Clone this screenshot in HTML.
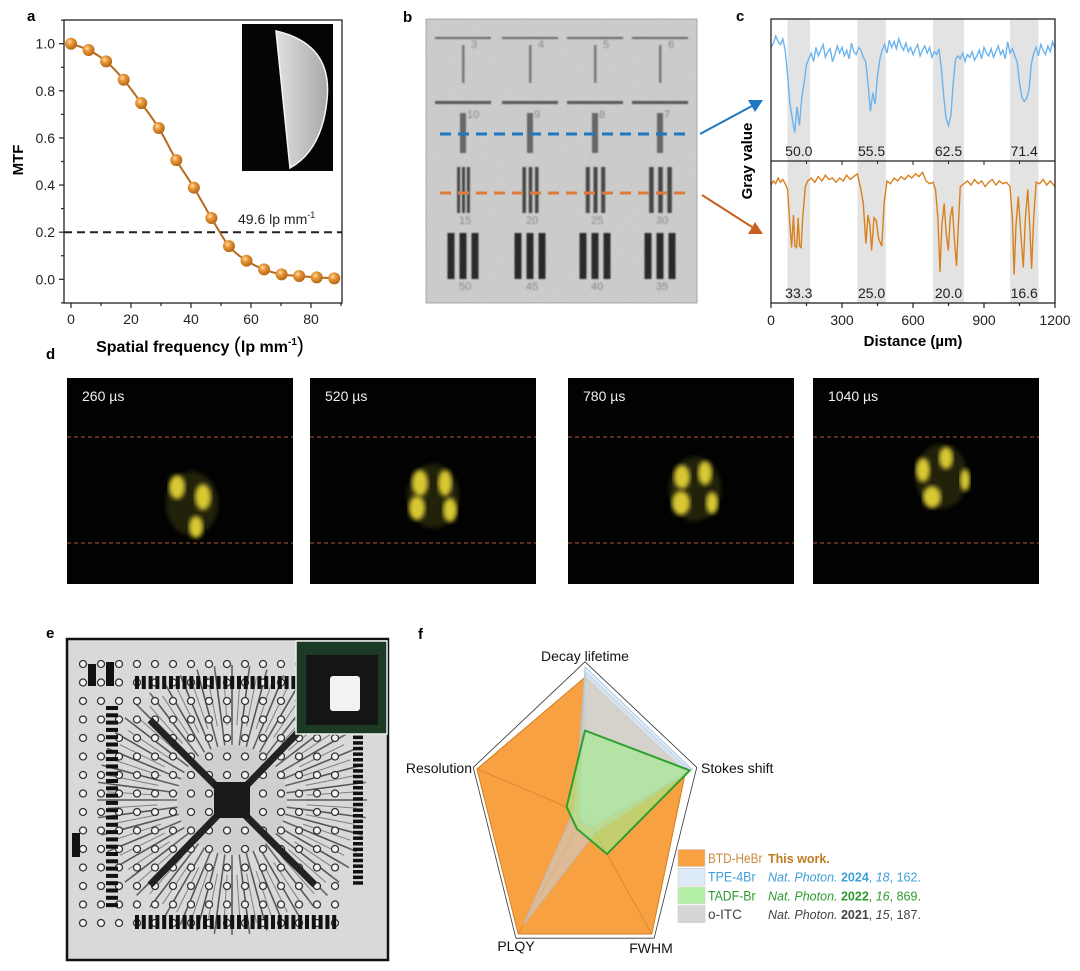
<!DOCTYPE html>
<html><head><meta charset="utf-8">
<style>
html,body{margin:0;padding:0;background:#fff;}
svg{display:block;font-family:"Liberation Sans",Arial,sans-serif;}
</style></head>
<body>
<svg id="fig" width="1080" height="971" viewBox="0 0 1080 971" xmlns="http://www.w3.org/2000/svg">
<defs>
  <radialGradient id="ball" cx="0.38" cy="0.35" r="0.7">
    <stop offset="0" stop-color="#fde0b0"/>
    <stop offset="0.35" stop-color="#eb9a3a"/>
    <stop offset="1" stop-color="#b0600e"/>
  </radialGradient>
  <linearGradient id="lens" x1="0" y1="0" x2="1" y2="0">
    <stop offset="0" stop-color="#e0e0e0"/><stop offset="1" stop-color="#a8a8a8"/>
  </linearGradient>
  <filter id="noise" x="0" y="0" width="100%" height="100%">
    <feTurbulence type="fractalNoise" baseFrequency="0.9" numOctaves="2" seed="3"/>
    <feColorMatrix type="matrix" values="0 0 0 0 0.72  0 0 0 0 0.72  0 0 0 0 0.72  0 0 0 -1.2 1.1"/>
  </filter>
  <filter id="blur1"><feGaussianBlur stdDeviation="0.8"/></filter>
  <filter id="blur3"><feGaussianBlur stdDeviation="2.5"/></filter>
</defs>

<g font-weight="bold" font-size="15" fill="#000">
  <text x="27" y="21">a</text>
  <text x="403" y="22">b</text>
  <text x="736" y="21">c</text>
  <text x="46" y="359">d</text>
  <text x="46" y="638">e</text>
  <text x="418" y="639">f</text>
</g>

<g id="pa">
  <rect x="242" y="24" width="91" height="147" fill="#050505"/>
  <path d="M276,31 Q333,44 327,100 Q322,150 290,168 Z" fill="url(#lens)" stroke="#f4f4f4" stroke-width="1.5"/>
  <line x1="64" y1="232.2" x2="342" y2="232.2" stroke="#222" stroke-width="2" stroke-dasharray="8,5"/>
  <text x="238" y="224" font-size="14" fill="#222">49.6 lp mm<tspan font-size="9" dy="-6">-1</tspan></text>
  <rect x="64" y="20" width="278" height="283" fill="none" stroke="#222" stroke-width="1.3"/>
  <text transform="translate(23,160) rotate(-90)" text-anchor="middle" font-size="15" font-weight="bold">MTF</text>
  <text x="200" y="352" text-anchor="middle" font-size="16" font-weight="bold">Spatial frequency <tspan font-weight="normal" font-size="21">(</tspan>lp mm<tspan font-size="10" dy="-7">-1</tspan><tspan font-weight="normal" font-size="21" dy="7">)</tspan></text>
</g>

<g id="pb">
  <rect x="426" y="19" width="271" height="284" fill="#c2c2c2"/>
  <rect x="426" y="19" width="271" height="284" filter="url(#noise)" opacity="0.7"/>
  <rect x="426" y="19" width="271" height="284" fill="none" stroke="#999" stroke-width="0.8"/>
  <line x1="440" y1="134" x2="692" y2="134" stroke="#1f77c0" stroke-width="3" stroke-dasharray="11,7"/>
  <line x1="440" y1="193" x2="692" y2="193" stroke="#e07a3a" stroke-width="3" stroke-dasharray="11,7"/>
  <g><line x1="700" y1="134" x2="752" y2="106" stroke="#1f77c0" stroke-width="2"/><polygon points="763,100 748,100 755,112" fill="#1f77c0"/></g>
  <g><line x1="702" y1="195" x2="752" y2="227" stroke="#c8601e" stroke-width="2"/><polygon points="763,234 748,234 755,222" fill="#c8601e"/></g>
</g>

<g id="pc">
  <text transform="translate(752,161) rotate(-90)" text-anchor="middle" font-size="15" font-weight="bold">Gray value</text>
  <text x="913" y="346" text-anchor="middle" font-size="15" font-weight="bold">Distance (µm)</text>
</g>

<g id="pd"></g>
<g id="pe"></g>
<g id="pf"></g>

</svg>
<script>
const NS="http://www.w3.org/2000/svg";
function mk(tag,attrs,parent,text){const e=document.createElementNS(NS,tag);for(const k in attrs)e.setAttribute(k,attrs[k]);if(text!==undefined)e.textContent=text;parent.appendChild(e);return e;}

const mtfFreq=[0,5.85,11.7,17.55,23.4,29.25,35.1,40.95,46.8,52.65,58.5,64.35,70.2,76.05,81.9,87.75];
const mtfValue=[1.0,0.973,0.925,0.847,0.748,0.642,0.506,0.389,0.26,0.141,0.079,0.042,0.021,0.014,0.008,0.004];
const mtfXTicks=[0,20,40,60,80];
const mtfYTicks=[0.0,0.2,0.4,0.6,0.8,1.0];

const bluePosStep=10;
const blueGray=[80,83,88,84,82,86,78,
 60,40,30,20,38,25,45,55,68,
 72,76,70,80,74,78,82,73,77,79,70,75,81,76,80,74,78,72,83,77,75,80,78,73,
 70,55,35,48,40,60,72,
 78,82,76,85,80,84,79,86,81,78,83,77,80,75,79,82,74,78,81,76,80,73,77,75,79,
 65,45,30,25,32,55,72,
 74,72,76,70,75,73,77,71,74,78,72,80,76,74,79,73,77,81,75,78,72,84,76,79,74,
 70,55,45,42,44,50,68,
 76,80,74,82,78,75,81,77,84,79];
const orangeDist=[0,10,20,30,40,50,60,70,80,87,95,101,108,115,121,127,134,145,155,170,185,200,215,230,245,260,275,290,305,320,335,350,365,380,390,401,410,418,425,435,445,455,468,478,490,505,520,535,550,565,580,595,610,625,640,655,670,685,695,705,714,722,732,740,749,757,766,775,784,792,800,815,830,845,860,875,890,905,920,935,950,965,980,995,1010,1020,1027,1035,1045,1055,1066,1075,1085,1093,1101,1110,1120,1135,1150,1165,1180,1190,1200];
const orangeGray=[83,86,84,88,85,87,84,80,55,39,62,40,39,60,40,39,60,82,86,88,85,89,86,90,87,88,85,88,86,90,87,89,91,80,70,42,62,55,37,60,58,45,40,70,86,84,88,86,89,87,90,88,91,89,92,86,84,85,80,60,22,55,70,50,37,60,68,45,26,55,82,84,86,83,87,84,86,82,85,87,83,86,84,85,82,60,20,55,75,50,25,60,80,55,24,60,85,84,87,83,86,84,82];
const bandStart=[70,365,685,1010];
const bandEnd=[165,485,815,1130];
const topBandLabels=["50.0","55.5","62.5","71.4"];
const bottomBandLabels=["33.3","25.0","20.0","16.6"];
const distTicks=[0,300,600,900,1200];

const radarAxes=["Decay lifetime","Stokes shift","FWHM","PLQY","Resolution"];
const seriesNames=["BTD-HeBr","o-ITC","TPE-4Br","TADF-Br"];
const btdValues=[0.93,0.93,1.0,1.0,1.0];
const oitcValues=[0.97,0.97,0.15,0.92,0.1];
const tpeValues=[1.0,0.99,0.1,0.05,0.05];
const tadfValues=[0.57,0.97,0.33,0.12,0.17];

(function(){
  const g=document.getElementById('pa');
  const X=v=>71+v*3, Y=v=>279.3-v*235.6;
  for(let v=-0.1;v<=1.101;v+=0.1){const maj=Math.abs(Math.round(v*10)%2)===0;
    const t=mk('line',{x1:64,x2:64-(maj?5:3),y1:Y(v),y2:Y(v),stroke:'#222','stroke-width':1.2},g);
    
    }
  mtfYTicks.forEach(v=>{const t=mk('text',{x:55,y:Y(v)+5,'text-anchor':'end','font-size':14,fill:'#222'},g,v.toFixed(1));
    
    });
  for(let v=0;v<=90;v+=10){const maj=v%20===0;
    const t=mk('line',{x1:X(v),x2:X(v),y1:303,y2:303+(maj?5:3),stroke:'#222','stroke-width':1.2},g);
    
    }
  mtfXTicks.forEach(v=>{const t=mk('text',{x:X(v),y:324,'text-anchor':'middle','font-size':14,fill:'#222'},g,String(v));
    
    });
  const P=mtfFreq.map((f,i)=>[X(f),Y(mtfValue[i])]);
  let d='M'+P[0][0]+','+P[0][1];
  for(let i=0;i<P.length-1;i++){const p0=P[Math.max(0,i-1)],p1=P[i],p2=P[i+1],p3=P[Math.min(P.length-1,i+2)];
    d+=' C'+(p1[0]+(p2[0]-p0[0])/6)+','+(p1[1]+(p2[1]-p0[1])/6)+' '+(p2[0]-(p3[0]-p1[0])/6)+','+(p2[1]-(p3[1]-p1[1])/6)+' '+p2[0]+','+p2[1];}
  const line=mk('path',{d:d,fill:'none',stroke:'#b86a1c','stroke-width':2},g);
  
  
  P.forEach(p=>{const c=mk('circle',{cx:p[0],cy:p[1],r:6,fill:'url(#ball)'},g);
    
    });
})();

(function(){
  const g=document.getElementById('pb');
  const first=g.children[3];
  const cols=[463,530,595,660];
  const lab=[["3","4","5","6"],["10","9","8","7"],["15","20","25","30"],["50","45","40","35"]];
  const grp=mk('g',{filter:'url(#blur1)'},g); g.insertBefore(grp,first);
  cols.forEach((cx,i)=>{
    mk('rect',{x:cx-28,y:37,width:56,height:2,fill:'#666'},grp);
    mk('rect',{x:cx-1,y:45,width:2.5,height:38,fill:'#777'},grp);
    mk('rect',{x:cx-28,y:101,width:56,height:3,fill:'#555'},grp);
    mk('rect',{x:cx-3,y:113,width:6,height:40,fill:'#666'},grp);
    const w=[2,2.5,3,3.5][i], s=[3.5,4.5,5.5,6.5][i];
    for(let k=-1;k<=1;k++) mk('rect',{x:cx+k*s*1.4-w/2,y:167,width:w+1,height:46,fill:'#444'},grp);
    for(let k=-1;k<=1;k++) mk('rect',{x:cx+k*12-3.5,y:233,width:7,height:46,fill:'#2a2a2a'},grp);
    [[lab[0][i],cx+8,48],[lab[1][i],cx+4,118],[lab[2][i],cx-4,224],[lab[3][i],cx-4,290]].forEach(a=>mk('text',{x:a[1],y:a[2],'font-size':11,fill:'#888'},grp,a[0]));
  });
})();

(function(){
  const g=document.getElementById('pc');
  const X=v=>771+v*(284/1200);
  const Yt=v=>161-v*1.42, Yb=v=>303-v*1.42;
  bandStart.forEach((s,i)=>{const r=mk('rect',{x:X(s),y:19,width:X(bandEnd[i])-X(s),height:284,fill:'#e3e3e3'},g);
    
    });
  const bd=blueGray.map((v,i)=>(i?'L':'M')+X(i*bluePosStep).toFixed(1)+','+Yt(v).toFixed(1)).join(' ');
  const bl=mk('path',{d:bd,fill:'none',stroke:'#6cb4ee','stroke-width':1.4},g);
  
  
  const od=orangeGray.map((v,i)=>(i?'L':'M')+X(orangeDist[i]).toFixed(1)+','+Yb(v).toFixed(1)).join(' ');
  const ol=mk('path',{d:od,fill:'none',stroke:'#d9801e','stroke-width':1.4},g);
  
  
  bandStart.forEach((s,i)=>{const cx=(X(s)+X(bandEnd[i]))/2;
    const t1=mk('text',{x:cx,y:156,'text-anchor':'middle','font-size':14,fill:'#222'},g,topBandLabels[i]);
    
    
    const t2=mk('text',{x:cx,y:298,'text-anchor':'middle','font-size':14,fill:'#222'},g,bottomBandLabels[i]);
    
    });
  mk('rect',{x:771,y:19,width:284,height:284,fill:'none',stroke:'#222','stroke-width':1.3},g);
  mk('line',{x1:771,x2:1055,y1:161,y2:161,stroke:'#222','stroke-width':1.3},g);
  for(let v=0;v<=1200;v+=150){const maj=v%300===0;
    const t=mk('line',{x1:X(v),x2:X(v),y1:303,y2:303+(maj?5:3),stroke:'#222','stroke-width':1.2},g);
    
    
    mk('line',{x1:X(v),x2:X(v),y1:161,y2:161+(maj?4:3),stroke:'#222','stroke-width':1},g);}
  distTicks.forEach(v=>{const t=mk('text',{x:X(v),y:325,'text-anchor':'middle','font-size':14,fill:'#222'},g,String(v));
    
    });
})();

(function(){
  const g=document.getElementById('pd');
  const frames=[[67,"260 µs",[[177,487,8,12],[203,497,8,13],[196,527,7,11]]],
                [310,"520 µs",[[420,483,8,13],[445,483,7,13],[417,508,8,12],[450,510,7,12]]],
                [568,"780 µs",[[682,477,8,12],[705,473,7,12],[681,503,9,12],[712,503,6,11]]],
                [813,"1040 µs",[[923,470,7,12],[946,458,7,11],[932,497,9,11],[965,480,5,11]]]];
  frames.forEach(f=>{
    const fr=mk('g',{},g);
    
    
    mk('rect',{x:f[0],y:378,width:226,height:206,fill:'#020202'},fr);
    const c=f[2];
    const cx=c.reduce((a,b)=>a+b[0],0)/c.length, cy=c.reduce((a,b)=>a+b[1],0)/c.length;
    mk('ellipse',{cx:cx,cy:cy,rx:26,ry:32,fill:'#2a2a10',opacity:0.8,filter:'url(#blur3)'},fr);
    c.forEach(b=>mk('ellipse',{cx:b[0],cy:b[1],rx:b[2],ry:b[3],fill:'#d8c830',filter:'url(#blur3)'},fr));
    mk('line',{x1:f[0],x2:f[0]+226,y1:437,y2:437,stroke:'#b0583a','stroke-width':1,'stroke-dasharray':'4,3'},fr);
    mk('line',{x1:f[0],x2:f[0]+226,y1:543,y2:543,stroke:'#b0583a','stroke-width':1,'stroke-dasharray':'4,3'},fr);
    const t=mk('text',{x:f[0]+15,y:401,'font-size':14,fill:'#f0f0f0'},fr,f[1]);
    
    
  });
})();

(function(){
  const g=document.getElementById('pe');
  mk('rect',{x:67,y:639,width:321,height:321,fill:'#d9d9d9'},g);
  const cx=232,cy=800;
  for(let i=0;i<48;i++){const a=i/48*2*Math.PI;
    mk('line',{x1:cx+Math.cos(a)*55,y1:cy+Math.sin(a)*55,x2:cx+Math.cos(a)*135,y2:cy+Math.sin(a)*135,stroke:'#333','stroke-width':1.6,opacity:0.7},g);}
  for(let i=0;i<96;i++){const a=i/96*2*Math.PI;
    mk('line',{x1:cx+Math.cos(a)*75,y1:cy+Math.sin(a)*75,x2:cx+Math.cos(a)*125,y2:cy+Math.sin(a)*125,stroke:'#444','stroke-width':1,opacity:0.6},g);}
  mk('circle',{cx:cx,cy:cy,r:55,fill:'#cfcfcf'},g);
  for(let r=0;r<15;r++)for(let c=0;c<15;c++){const x=83+c*18,y=664+r*18.5;
    mk('circle',{cx:x,cy:y,r:3.5,fill:'#f4f4f4',stroke:'#333','stroke-width':1.3},g);}
  mk('line',{x1:150,y1:720,x2:315,y2:885,stroke:'#222','stroke-width':7},g);
  mk('line',{x1:315,y1:715,x2:150,y2:885,stroke:'#222','stroke-width':7},g);
  mk('rect',{x:cx-18,y:cy-18,width:36,height:36,fill:'#1a1a1a'},g);
  for(let i=0;i<30;i++){mk('rect',{x:135+i*6.8,y:676,width:4,height:13,fill:'#111'},g);
    mk('rect',{x:135+i*6.8,y:915,width:4,height:14,fill:'#111'},g);}
  for(let i=0;i<28;i++){mk('rect',{x:106,y:706+i*7.3,width:12,height:4,fill:'#111'},g);
    mk('rect',{x:353,y:730+i*5.6,width:10,height:3.5,fill:'#111'},g);}
  mk('rect',{x:88,y:664,width:8,height:22,fill:'#111'},g);
  mk('rect',{x:106,y:662,width:8,height:24,fill:'#111'},g);
  mk('rect',{x:72,y:833,width:8,height:24,fill:'#111'},g);
  mk('rect',{x:67,y:639,width:321,height:321,fill:'none',stroke:'#111','stroke-width':2.5},g);
  const ins=mk('g',{},g);
  
  
  mk('rect',{x:296,y:641,width:91,height:93,fill:'#1d3a24',stroke:'#eee','stroke-width':1.5},ins);
  mk('rect',{x:306,y:655,width:72,height:70,fill:'#151515'},ins);
  mk('rect',{x:330,y:676,width:30,height:35,rx:3,fill:'#f2f2f2'},ins);
})();

(function(){
  const g=document.getElementById('pf');
  const CX=585, CY=814.6, RX=113.6, RY=147.6;
  const ang=[-90,-18,54,126,198].map(a=>a*Math.PI/180);
  const pt=(i,v)=>[CX+Math.cos(ang[i])*RX*v, CY+Math.sin(ang[i])*RY*v];
  const poly=vals=>vals.map((v,i)=>pt(i,v).map(n=>n.toFixed(1)).join(',')).join(' ');
  const outer=mk('polygon',{points:poly([1.035,1.035,1.035,1.035,1.035]),fill:'none',stroke:'#333','stroke-width':0.8},g);
  
  
  const styles=[[btdValues,'#f7a142','#d2801e',1,'btd-hebr-area'],
                [oitcValues,'rgba(205,205,205,0.6)','#bbb',1,'o-itc-area'],
                [tpeValues,'rgba(205,228,248,0.55)','#a8cdea',1,'tpe-4br-area'],
                [tadfValues,'rgba(160,238,140,0.6)','#2da02d',2,'tadf-br-area']];
  styles.forEach((s,k)=>{
    const p=mk('polygon',{points:poly(s[0]),fill:s[1],stroke:s[2],'stroke-width':s[3],'stroke-linejoin':'round'},g);
    
    
    if(k===0){for(let i=0;i<5;i++){const q=pt(i,1);mk('line',{x1:CX,y1:CY,x2:q[0],y2:q[1],stroke:'#b86a18','stroke-width':0.7,opacity:0.6},g);}}
  });
  const lp=[[585,661,'middle'],[701,773,'start'],[651,953,'middle'],[516,951,'middle'],[472,773,'end']];
  radarAxes.forEach((n,i)=>{const t=mk('text',{x:lp[i][0],y:lp[i][1],'text-anchor':lp[i][2],'font-size':14,fill:'#111'},g,n);
    
    });
  const sw=['#f7a142','#ddebf8','#b5f0a8','#d6d6d6'];
  const nameCol=['#c98a3c','#3ea0da','#2e9a2e','#444'];
  const refs=[[['This work.','bold','normal']],
    [['Nat. Photon. ','normal','italic'],['2024','bold','normal'],[', ','normal','normal'],['18','normal','italic'],[', 162.','normal','normal']],
    [['Nat. Photon. ','normal','italic'],['2022','bold','normal'],[', ','normal','normal'],['16','normal','italic'],[', 869.','normal','normal']],
    [['Nat. Photon. ','normal','italic'],['2021','bold','normal'],[', ','normal','normal'],['15','normal','italic'],[', 187.','normal','normal']]];
  const legendNames=["BTD-HeBr","TPE-4Br","TADF-Br","o-ITC"];
  const refCol=['#c07a20','#3ea0da','#2e9a2e','#444'];
  legendNames.forEach((n,i)=>{const y=858+i*18.7;
    const e=mk('g',{},g);
    
    
    mk('rect',{x:678,y:y-8.5,width:27,height:17,fill:sw[i],stroke:'#ccc','stroke-width':0.6},e);
    mk('text',{x:708,y:y+5,'font-size':14,fill:nameCol[i],textLength:n.length*6.8,lengthAdjust:'spacingAndGlyphs'},e,n);
    const t=mk('text',{x:768,y:y+5,'font-size':12.5,fill:refCol[i]},e);
    refs[i].forEach(r=>mk('tspan',{'font-weight':r[1],'font-style':r[2]},t,r[0]));
  });
})();
</script>
</body></html>
